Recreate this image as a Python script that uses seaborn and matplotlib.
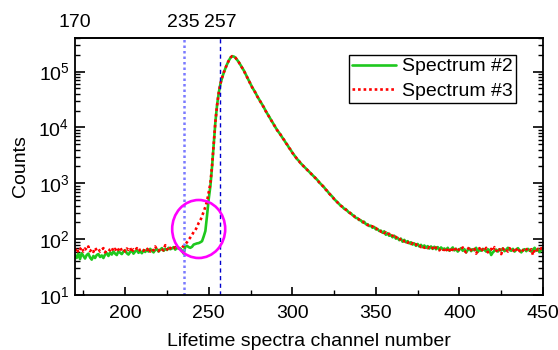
import numpy as np
import pandas as pd
import matplotlib
matplotlib.use("Agg")
import matplotlib.pyplot as plt
import seaborn as sns
from matplotlib.patches import Ellipse
from matplotlib.ticker import MultipleLocator, LogLocator

# ---------------- data ----------------
channels = np.arange(170, 451)

# Spectrum #2 (green)
s2_left = [52, 46, 55, 44, 56, 50, 45, 52, 55, 47, 43, 50, 46, 52, 54, 48, 51, 46, 53, 56, 50,
           58, 53, 60, 55, 52, 61, 57, 54, 60, 63, 56, 53, 59, 62, 55, 60, 64, 57, 61, 56,
           63, 59, 65, 60, 67, 62, 58, 64, 66, 60, 65, 69, 62, 67, 64, 70, 66, 68, 72, 65, 70, 68]
s2_rise = [68, 62, 55, 74, 76, 72, 70, 73, 80, 82, 84, 85, 88, 92, 112, 140, 265, 525, 891]
s2_peak = [1995, 5100, 12600, 25100, 41700, 60300, 77600, 95500, 115000, 136000,
           157000, 177000, 188400, 186200, 177800, 162200, 147900, 131800, 117500, 104700,
           91200, 79430, 69180, 60260, 52480, 46770, 41690, 36310, 32360, 28840,
           25700, 22910, 19950, 17780, 15850, 14130, 12590, 11220, 10000, 8913,
           8128, 7413, 6607, 6026, 5370, 4898, 4365, 3981, 3548, 3236,
           2951, 2692, 2512, 2291, 2138, 1995, 1862, 1738, 1622, 1514,
           1413, 1318, 1230, 1148, 1047, 977, 912, 851, 776, 724,
           661, 617, 575, 525, 490, 457, 427, 398, 380]
s2_tail = [350, 345, 320, 298, 292, 270, 262, 240, 238, 220,
           218, 200, 205, 186, 185, 172, 174, 160, 165, 150,
           152, 140, 142, 130, 138, 120, 128, 115, 118, 108,
           115, 102, 106, 96, 102, 90, 97, 88, 92, 84,
           88, 80, 84, 76, 82, 74, 79, 72, 77, 70,
           75, 68, 74, 67, 73, 66, 72, 65, 71, 66]
s2_right = [68, 64, 70, 62, 66, 71, 63, 67, 60, 65,
            69, 62, 66, 58, 64, 68, 61, 66, 63, 70,
            59, 65, 62, 67, 64, 60, 66, 63, 52, 58,
            62, 65, 60, 66, 63, 68, 61, 65, 70, 64,
            62, 67, 60, 65, 69, 63, 58, 64, 66, 61,
            67, 63, 60, 65, 70, 62, 66, 59, 64, 67]

# Spectrum #3 (red)
s3_left = [62, 70, 58, 66, 72, 60, 68, 64, 74, 61, 66, 59, 70, 63, 67, 60, 65, 69, 58, 64, 66,
           63, 70, 61, 67, 59, 65, 72, 62, 66, 60, 68, 64, 70, 58, 66, 63, 69, 61, 65, 67,
           62, 68, 64, 71, 60, 66, 63, 74, 65, 61, 69, 66, 63, 78, 67, 62, 70, 65, 68, 72, 66, 70]
s3_rise = [72, 70, 76, 82, 88, 98, 107, 118, 135, 145, 165, 195, 215, 260, 310, 380, 480, 690, 1000]
s3_peak = [2050, 5200, 12800, 25000, 42000, 60800, 78000, 96500, 115500, 137000,
           157500, 177500, 189000, 186000, 177000, 161500, 147000, 131000, 117000, 104000,
           90800, 79000, 69000, 60000, 52200, 46500, 41500, 36200, 32200, 28700,
           25600, 22800, 19900, 17700, 15800, 14100, 12550, 11200, 9980, 8900,
           8100, 7400, 6600, 6000, 5350, 4880, 4350, 3970, 3540, 3230,
           2940, 2690, 2500, 2285, 2130, 1990, 1855, 1730, 1620, 1510,
           1410, 1315, 1225, 1145, 1050, 975, 910, 850, 775, 722,
           660, 615, 572, 524, 488, 456, 426, 398, 378]
s3_tail = [358, 336, 322, 305, 285, 278, 255, 248, 232, 226,
           210, 208, 196, 192, 178, 180, 168, 170, 155, 158,
           145, 148, 136, 140, 128, 132, 120, 125, 112, 116,
           105, 110, 100, 104, 95, 99, 91, 94, 86, 90,
           82, 85, 78, 81, 75, 78, 72, 76, 70, 73,
           69, 72, 66, 70, 64, 71, 67, 63, 69, 65]
s3_right = [64, 70, 61, 67, 58, 66, 72, 63, 60, 68,
            65, 71, 62, 58, 66, 73, 64, 61, 67, 55,
            63, 69, 60, 66, 62, 70, 58, 64, 67, 61,
            72, 63, 59, 66, 54, 68, 62, 65, 60, 69,
            63, 66, 58, 64, 70, 61, 67, 63, 59, 65,
            68, 62, 66, 52, 64, 60, 67, 63, 69, 61]

spectrum2 = s2_left + s2_rise + s2_peak + s2_tail + s2_right
spectrum3 = s3_left + s3_rise + s3_peak + s3_tail + s3_right
assert len(spectrum2) == len(channels) and len(spectrum3) == len(channels)

marker_channels = [235, 257]
top_ticks = [170, 235, 257]
bottom_ticks = [200, 250, 300, 350, 400, 450]

df = pd.DataFrame({"channel": channels, "s2": spectrum2, "s3": spectrum3})

# ---------------- style ----------------
sns.set_style("ticks")
plt.rcParams["font.family"] = ["Liberation Sans", "DejaVu Sans"]
plt.rcParams["mathtext.default"] = "regular"
plt.rcParams["text.color"] = "black"
plt.rcParams["axes.labelcolor"] = "black"
plt.rcParams["xtick.color"] = "black"
plt.rcParams["ytick.color"] = "black"
plt.rcParams["xtick.labelcolor"] = "black"
plt.rcParams["ytick.labelcolor"] = "black"
FS = 14

fig = plt.figure(figsize=(5.58, 3.5), dpi=100)
ax = fig.add_axes([75 / 558, 1 - 295 / 350, 468 / 558, 257 / 350])

sns.lineplot(data=df, x="channel", y="s2", color="#1ec81e", linewidth=1.9,
             label="Spectrum #2", ax=ax)
sns.lineplot(data=df, x="channel", y="s3", color="#ff0000", linewidth=1.9,
             linestyle=(0, (1, 1.1)), label="Spectrum #3", ax=ax)

ax.axvline(marker_channels[0], color="#7a7aff", linewidth=1.8, linestyle=(0, (1, 1.2)))
ax.axvline(marker_channels[1], color="#0000cc", linewidth=1.0, linestyle=(0, (3, 2.5)))

ax.set_yscale("log")
ax.set_xlim(170, 450)
ax.set_ylim(10, 4e5)
ax.set_xticks(bottom_ticks)
ax.xaxis.set_minor_locator(MultipleLocator(25))
ax.yaxis.set_major_locator(LogLocator(base=10, numticks=10))
ax.yaxis.set_minor_locator(LogLocator(base=10, subs=np.arange(2, 10), numticks=12))

for s in ax.spines.values():
    s.set_linewidth(1.3)
    s.set_color("black")
    s.set_visible(True)

ax.tick_params(which="both", direction="in", top=False, right=True, color="black",
               labelcolor="black")
ax.tick_params(which="major", length=6, width=1.2, labelsize=FS)
ax.tick_params(axis="x", which="major", pad=7)
ax.tick_params(axis="y", which="major", pad=4, length=7)
ax.tick_params(which="minor", length=3.5, width=1.0)

ax.set_xlabel("Lifetime spectra channel number", fontsize=FS, labelpad=8, color="black")
ax.set_ylabel("Counts", fontsize=FS, labelpad=7, color="black")

secax = ax.secondary_xaxis("top")
secax.set_xticks(top_ticks)
secax.set_xticklabels([str(t) for t in top_ticks])
secax.tick_params(length=0, pad=5, labelsize=FS, labelcolor="black")
secax.spines["top"].set_linewidth(1.3)

ell = Ellipse((0.2643, 0.2568), width=0.1133, height=0.2257, transform=ax.transAxes,
              fill=False, edgecolor="#ff00ff", linewidth=1.9, zorder=5)
ax.add_patch(ell)

leg = ax.legend(loc="upper right", bbox_to_anchor=(0.942, 0.934), borderaxespad=0,
                fontsize=FS, frameon=True, fancybox=False, framealpha=1,
                edgecolor="black", handlelength=2.3, handletextpad=0.3,
                labelspacing=0.35, borderpad=0.15, labelcolor="black")
leg.get_frame().set_linewidth(1.0)

fig.savefig("out.png", dpi=100)
